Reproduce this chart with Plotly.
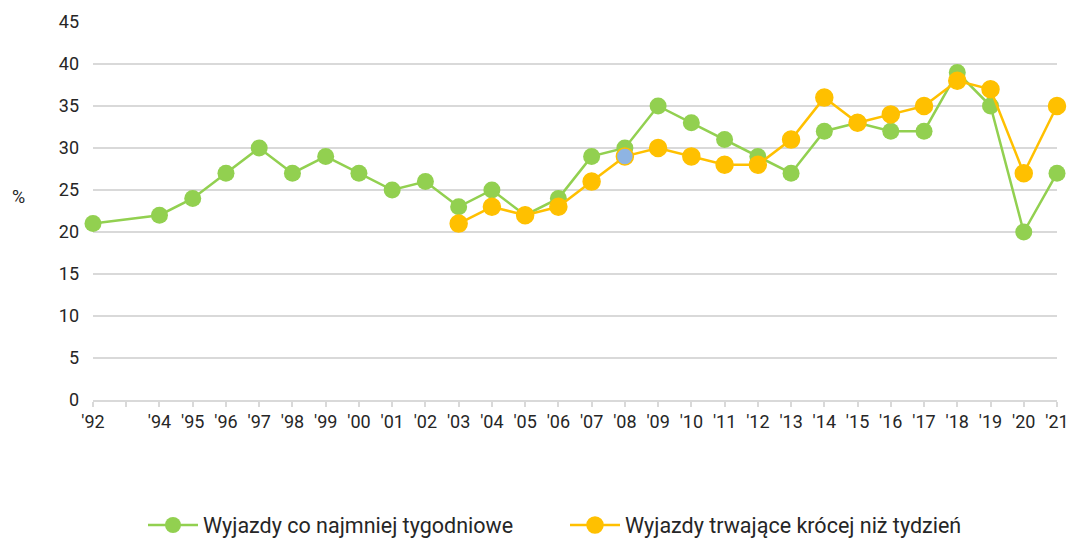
import plotly.graph_objects as go

years_green = [1992, 1994, 1995, 1996, 1997, 1998, 1999, 2000, 2001, 2002, 2003, 2004, 2005,
               2006, 2007, 2008, 2009, 2010, 2011, 2012, 2013, 2014, 2015, 2016, 2017, 2018,
               2019, 2020, 2021]
green_vals = [21, 22, 24, 27, 30, 27, 29, 27, 25, 26, 23, 25, 22,
              24, 29, 30, 35, 33, 31, 29, 27, 32, 33, 32, 32, 39,
              35, 20, 27]

years_orange = [2003, 2004, 2005, 2006, 2007, 2008, 2009, 2010, 2011, 2012, 2013, 2014,
                2015, 2016, 2017, 2018, 2019, 2020, 2021]
orange_vals = [21, 23, 22, 23, 26, 29, 30, 29, 28, 28, 31, 36,
               33, 34, 35, 38, 37, 27, 35]

tick_years = list(range(1992, 2022))
tick_labels = ["'" + str(y)[2:] if y != 1993 else "" for y in tick_years]

GREEN = "#92D050"
ORANGE = "#FFC000"
BLUE = "#8EB4E3"

orange_marker_colors = [BLUE if y == 2008 else ORANGE for y in years_orange]

fig = go.Figure()
fig.add_trace(go.Scatter(
    x=years_green, y=green_vals, mode="lines+markers",
    name="Wyjazdy co najmniej tygodniowe",
    line=dict(color=GREEN, width=2.5),
    marker=dict(color=GREEN, size=17),
    cliponaxis=False,
))
fig.add_trace(go.Scatter(
    x=years_orange, y=orange_vals, mode="lines+markers",
    name="Wyjazdy trwające krócej niż tydzień",
    line=dict(color=ORANGE, width=2.5),
    marker=dict(color=orange_marker_colors, size=17, line=dict(color=ORANGE, width=1.5)),
    cliponaxis=False,
))

W, H = 1070, 538
L, R, T, B = 93, 13, 22, 138
PW, PH = W - L - R, H - T - B

fig.update_layout(
    width=W, height=H,
    margin=dict(l=L, r=R, t=T, b=B, autoexpand=False),
    paper_bgcolor="white", plot_bgcolor="white",
    font=dict(family="Roboto", size=18, color="#262626"),
    showlegend=True,
    legend=dict(orientation="h", x=(143 - L) / PW, xanchor="left",
                yref="container", y=(H - 525) / H, yanchor="middle",
                font=dict(size=21.5, color="#262626"), entrywidth=357, itemwidth=50),
    xaxis=dict(
        range=[1992, 2021], tickmode="array", tickvals=tick_years, ticktext=tick_labels,
        showgrid=False, zeroline=False, showline=True, linecolor="#d9d9d9", linewidth=1.5,
        ticks="outside", ticklen=5, tickcolor="#d9d9d9", tickwidth=1.5,
        tickfont=dict(size=18), automargin=False, ticklabeloverflow="allow",
    ),
    yaxis=dict(
        range=[0, 45], tickmode="array", tickvals=list(range(0, 50, 5)),
        showgrid=True, gridcolor="#d9d9d9", gridwidth=1.5, zeroline=False,
        showline=False, ticks="", tickfont=dict(size=18), ticklabelstandoff=13,
        automargin=False,
    ),
    annotations=[dict(text="%", xref="paper", yref="paper",
                      x=(18 - L) / PW, y=(H - B - 197) / PH,
                      xanchor="center", yanchor="middle", showarrow=False,
                      font=dict(size=18, color="#262626"))],
)

fig.write_html("out.html", config={"displayModeBar": False},
               post_script="document.body.style.margin='0px';")
